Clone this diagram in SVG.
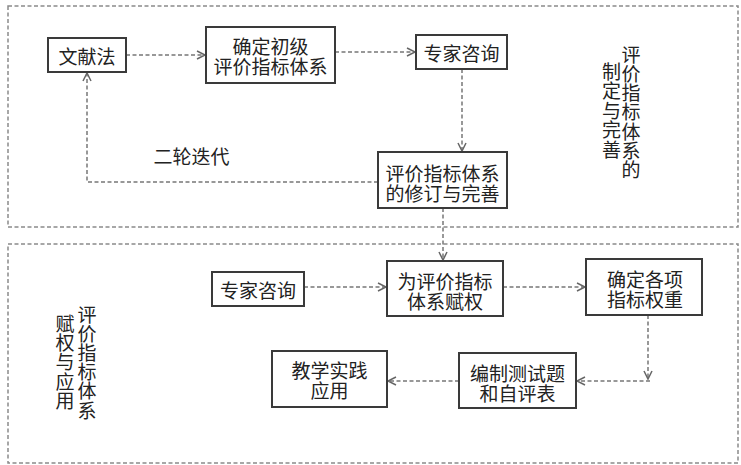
<svg xmlns="http://www.w3.org/2000/svg" width="741" height="465" viewBox="0 0 741 465">
<style>
.frame{fill:none;stroke:#8a8a8a;stroke-width:1.5;stroke-dasharray:4 2.5}
.box{fill:#fff;stroke:#3a3a3a;stroke-width:2}
.t{font-family:"Noto Sans CJK SC","Noto Sans",sans-serif;font-size:19px;fill:#222;text-anchor:middle;dominant-baseline:central}
.c{fill:none;stroke:#777;stroke-width:1.5;stroke-dasharray:4 2.5}
</style>
<defs>
<marker id="ah" markerWidth="12" markerHeight="12" refX="9" refY="5" orient="auto" markerUnits="userSpaceOnUse">
<path d="M1,1 L9,5 L1,9" fill="none" stroke="#666" stroke-width="1.5"/>
</marker>
</defs>
<rect class="frame" x="8" y="6" width="730" height="221"/>
<rect class="frame" x="8" y="244" width="730" height="219"/>
<g id="connectors">
<line class="c" x1="126" y1="55" x2="205" y2="55" marker-end="url(#ah)"/>
<line class="c" x1="335" y1="52" x2="415" y2="52" marker-end="url(#ah)"/>
<line class="c" x1="462" y1="69" x2="462" y2="151" marker-end="url(#ah)"/>
<polyline class="c" points="378,182 87,182 87,73" marker-end="url(#ah)"/>
<line class="c" x1="443" y1="208" x2="443" y2="260" marker-end="url(#ah)"/>
<line class="c" x1="304" y1="287" x2="386" y2="287" marker-end="url(#ah)"/>
<line class="c" x1="503" y1="287" x2="585" y2="287" marker-end="url(#ah)"/>
<line class="c" x1="648" y1="315" x2="648" y2="379" marker-end="url(#ah)"/>
<line class="c" x1="650" y1="381" x2="577" y2="381" marker-end="url(#ah)"/>
<line class="c" x1="459" y1="381" x2="388" y2="381" marker-end="url(#ah)"/>
</g>
<g id="n-wenxianfa"><rect class="box" x="48" y="38" width="78" height="34"/><text class="t" x="87" y="55">文献法</text></g>
<g id="n-chuji"><rect class="box" x="206" y="27" width="129" height="56"/><text class="t" x="270.5" y="45">确定初级</text><text class="t" x="270.5" y="65">评价指标体系</text></g>
<g id="n-zixun1"><rect class="box" x="416" y="35" width="91" height="34"/><text class="t" x="461.5" y="52">专家咨询</text></g>
<g id="n-xiuding"><rect class="box" x="378" y="152" width="129" height="56"/><text class="t" x="442.5" y="172">评价指标体系</text><text class="t" x="442.5" y="192">的修订与完善</text></g>
<g id="l-diedai"><text class="t" x="191.5" y="155">二轮迭代</text></g>
<g id="l-top">
<text class="t"><tspan x="631" y="52.5">评</tspan><tspan x="631" dy="19.3">价</tspan><tspan x="631" dy="19.3">指</tspan><tspan x="631" dy="19.3">标</tspan><tspan x="631" dy="19.3">体</tspan><tspan x="631" dy="19.3">系</tspan><tspan x="631" dy="19.3">的</tspan></text>
<text class="t"><tspan x="611.5" y="70">制</tspan><tspan x="611.5" dy="19.4">定</tspan><tspan x="611.5" dy="19.4">与</tspan><tspan x="611.5" dy="19.4">完</tspan><tspan x="611.5" dy="19.4">善</tspan></text>
</g>
<g id="n-zixun2"><rect class="box" x="212" y="272" width="92" height="34"/><text class="t" x="258" y="289">专家咨询</text></g>
<g id="n-fuquan"><rect class="box" x="387" y="261" width="116" height="55"/><text class="t" x="445" y="280">为评价指标</text><text class="t" x="445" y="300">体系赋权</text></g>
<g id="n-quanzhong"><rect class="box" x="586" y="259" width="116" height="56"/><text class="t" x="645" y="278">确定各项</text><text class="t" x="645" y="298">指标权重</text></g>
<g id="n-bianzhi"><rect class="box" x="459" y="353" width="117" height="55"/><text class="t" x="517.5" y="372">编制测试题</text><text class="t" x="517.5" y="392">和自评表</text></g>
<g id="n-jiaoxue"><rect class="box" x="272" y="351" width="115" height="56"/><text class="t" x="329.5" y="369">教学实践</text><text class="t" x="329.5" y="389">应用</text></g>
<g id="l-bottom">
<text class="t"><tspan x="87" y="312.6">评</tspan><tspan x="87" dy="19.2">价</tspan><tspan x="87" dy="19.2">指</tspan><tspan x="87" dy="19.2">标</tspan><tspan x="87" dy="19.2">体</tspan><tspan x="87" dy="19.2">系</tspan></text>
<text class="t"><tspan x="65" y="321.6">赋</tspan><tspan x="65" dy="19.3">权</tspan><tspan x="65" dy="19.3">与</tspan><tspan x="65" dy="19.3">应</tspan><tspan x="65" dy="19.3">用</tspan></text>
</g>
</svg>
